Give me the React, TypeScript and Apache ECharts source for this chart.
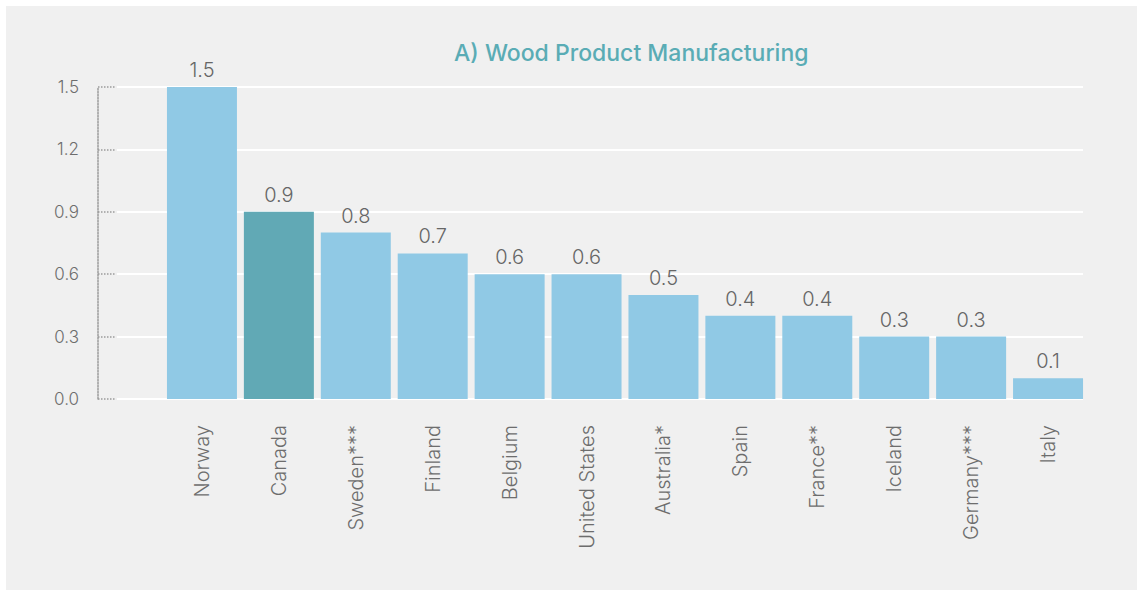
import React, { useEffect, useRef } from "react";
import * as echarts from "echarts";

const categories = ["Norway", "Canada", "Sweden***", "Finland", "Belgium", "United States", "Australia*", "Spain", "France**", "Iceland", "Germany***", "Italy"];
const values = [1.5, 0.9, 0.8, 0.7, 0.6, 0.6, 0.5, 0.4, 0.4, 0.3, 0.3, 0.1];
const highlighted = "Canada";
const yTicks = { min: 0, max: 1.5, interval: 0.3 };
const titleText = "A) Wood Product Manufacturing";

const FONT = "Inter";

export default function App() {
  const ref = useRef<HTMLDivElement>(null);
  useEffect(() => {
    if (!ref.current) return;
    const chart = echarts.init(ref.current, null, { renderer: "svg" });
    chart.setOption({
      animation: false,
      backgroundColor: "#ffffff",
      graphic: [
        { type: "rect", z: -10, shape: { x: 6, y: 6, width: 1131, height: 584 }, style: { fill: "#f0f0f0" }, silent: true },
      ],
      title: {
        text: titleText,
        left: 449,
        top: 36,
        textStyle: { fontFamily: FONT, fontSize: 23, fontWeight: 500, color: "#5aacb5" },
      },
      grid: [
        { left: 117, right: 60, top: 87, bottom: 192 },
        { left: 163.5, right: 56.5, top: 87, bottom: 192 },
      ],
      xAxis: [
        { type: "value", gridIndex: 0, show: false, min: 0, max: 1 },
        {
          type: "category",
          gridIndex: 1,
          data: categories,
          axisLine: { show: false },
          axisTick: { show: false },
          axisLabel: { rotate: 90, margin: 26, fontFamily: FONT, fontSize: 20, fontWeight: 300, color: "#6d6d6d" },
        },
      ],
      yAxis: [
        {
          type: "value",
          gridIndex: 0,
          min: yTicks.min,
          max: yTicks.max,
          interval: yTicks.interval,
          offset: 19,
          axisLine: { show: true, onZero: false, lineStyle: { type: "dotted", color: "#9a9a9a", width: 1.5 } },
          axisTick: { show: true, inside: true, length: 18, lineStyle: { type: "dotted", color: "#9a9a9a", width: 1.5 } },
          splitLine: { show: true, lineStyle: { color: "#ffffff", width: 2 } },
          axisLabel: { margin: 19, fontFamily: FONT, fontSize: 17, fontWeight: 300, color: "#6d6d6d", formatter: (v: number) => v.toFixed(1) },
        },
        { type: "value", gridIndex: 1, min: yTicks.min, max: yTicks.max, interval: yTicks.interval, show: false },
      ],
      series: [
        {
          type: "bar",
          xAxisIndex: 1,
          yAxisIndex: 1,
          barCategoryGap: "9%",
          data: values.map((v, i) => ({
            value: v,
            itemStyle: { color: categories[i] === highlighted ? "#61a9b5" : "#90c9e5" },
          })),
          label: {
            show: true,
            position: "top",
            distance: 7,
            fontFamily: FONT,
            fontSize: 20,
            fontWeight: 300,
            color: "#666666",
            formatter: (p: any) => p.value.toFixed(1),
          },
        },
      ],
    });
    return () => chart.dispose();
  }, []);
  return (
    <div style={{ position: "absolute", left: 0, top: 0, width: 1143, height: 591 }}>
      <div ref={ref} style={{ width: 1143, height: 591 }} />
    </div>
  );
}
